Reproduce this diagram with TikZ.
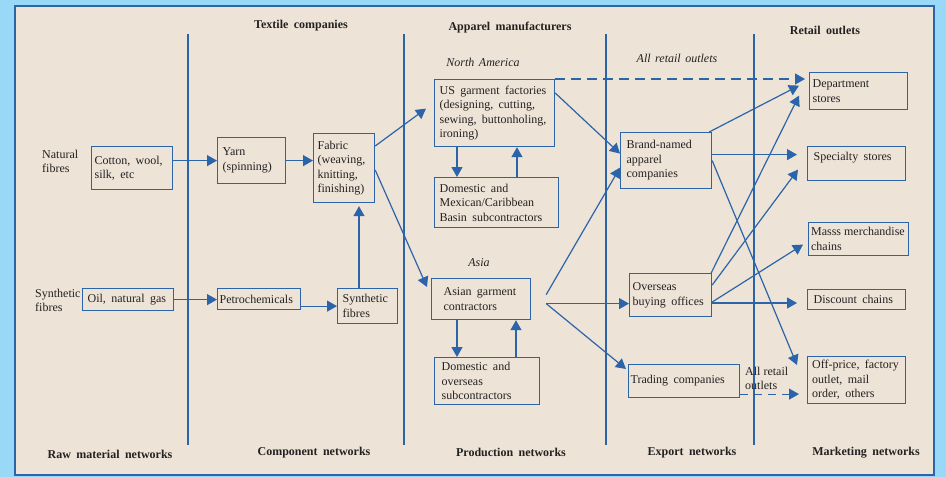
\documentclass[tikz,border=0pt]{standalone}
\usepackage{fontspec}
\setmainfont{Liberation Serif}
\usetikzlibrary{arrows.meta}
\definecolor{skyedge}{HTML}{9AD8F7}
\definecolor{paper}{HTML}{EEE3D7}
\definecolor{netblue}{HTML}{2B64A9}
\definecolor{ink}{HTML}{222222}
\newcommand\widegaps{\spaceskip=5.4pt plus 1pt\relax}
\newcommand\italgaps{\spaceskip=4.5pt plus 1pt\relax}
\newcommand\plaingaps{\spaceskip=0pt\relax}

\begin{document}
\begin{tikzpicture}[x=1pt,y=-1pt,
  unit/.style={draw=netblue,line width=1.2pt,anchor=north west,align=left,
    inner ysep=2pt,text=ink,font=\fontsize{12}{14.5}\selectfont,
    execute at begin node=\widegaps},
  flow/.style={netblue,line width=1.2pt,-{Triangle[length=10pt,width=11pt]}},
  head/.style={font=\bfseries\fontsize{12}{14}\selectfont\widegaps,text=ink},
  region/.style={font=\itshape\fontsize{12}{14}\selectfont\italgaps,text=ink},
  side/.style={anchor=north west,align=left,inner sep=0pt,text=ink,
    font=\fontsize{12}{14}\selectfont}]
  % frame
  \fill[skyedge] (0,0) rectangle (946,477);
  \filldraw[fill=paper,draw=netblue,line width=1.2pt] (15,6) rectangle (934,475);
  \foreach \x in {188,404,606,754} \draw[netblue,line width=1.2pt] (\x,34) -- (\x,445);

  % headings
  \node[head] (texthead) at (301,26) {Textile companies};
  \node[head] (apphead) at (510,28) {Apparel manufacturers};
  \node[head] (rethead) at (825,30) {Retail outlets};
  \node[head] (rawnet) at (110,454) {Raw material networks};
  \node[head] (compnet) at (314,453) {Component networks};
  \node[head] (prodnet) at (511,452) {Production networks};
  \node[head] (expnet) at (692,453) {Export networks};
  \node[head] (marknet) at (866,453) {Marketing networks};
  \node[region] (namerica) at (483,62) {North America};
  \node[region] (allout) at (677,58) {All retail outlets};
  \node[region] (asia) at (479,263) {Asia};

  % raw materials and components
  \node[side] (natural) at (42,150) {Natural\\fibres};
  \node[side] (synthetic) at (35,289) {Synthetic\\fibres};
  \node[unit,inner xsep=3pt,text width=75pt,minimum height=43pt] (cotton) at (91,146) {Cotton, wool,\\silk, etc};
  \node[unit,inner xsep=5pt,text width=81pt,minimum height=22pt] (oil) at (82,288) {Oil, natural gas};
  \node[unit,inner xsep=5pt,text width=58pt,minimum height=46pt] (yarn) at (217,137) {Yarn\\(spinning)};
  \node[unit,inner xsep=4pt,text width=53pt,minimum height=69pt] (fabric) at (313,133) {Fabric\\(weaving,\\knitting,\\finishing)};
  \node[unit,inner xsep=2pt,text width=79pt,minimum height=21pt] (petro) at (217,288) {Petrochemicals};
  \node[unit,inner xsep=5pt,text width=50pt,minimum height=35pt] (synf) at (337,288) {Synthetic\\fibres};

  % production
  \node[unit,inner xsep=5pt,text width=110pt,minimum height=67pt] (usfact) at (434,79) {US garment factories\\(designing, cutting,\\sewing, buttonholing,\\ironing)};
  \node[unit,inner xsep=5pt,text width=114pt,minimum height=50pt] (mexsub) at (434,177) {Domestic and\\Mexican/Caribbean\\Basin subcontractors};
  \node[unit,inner xsep=12pt,text width=75pt,minimum height=41pt] (asian) at (431,278) {Asian garment\\contractors};
  \node[unit,inner xsep=7pt,text width=91pt,minimum height=47pt] (ovsub) at (434,357) {Domestic and\\overseas\\subcontractors};

  % export
  \node[unit,inner xsep=6pt,text width=79pt,minimum height=56pt] (brand) at (620,132) {Brand-named\\apparel\\companies};
  \node[unit,inner xsep=3pt,text width=76pt,minimum height=43pt] (buying) at (629,273) {Overseas\\buying offices};
  \node[unit,inner xsep=2pt,text width=107pt,minimum height=33pt] (trading) at (628,364) {Trading companies};
  \node[side] (tradelabel) at (745,367) {All retail\\outlets};

  % marketing
  \node[unit,inner xsep=3pt,text width=92pt,minimum height=37pt] (dept) at (809,72) {Department\\stores};
  \node[unit,inner xsep=6pt,text width=86pt,minimum height=34pt] (special) at (807,146) {Specialty stores\\\mbox{}};
  \node[unit,inner xsep=2.5pt,text width=95pt,minimum height=33pt,execute at begin node=\plaingaps] (masss) at (808,222) {Masss merchandise\\chains};
  \node[unit,inner xsep=6pt,text width=86pt,minimum height=20pt] (discount) at (807,289) {Discount chains};
  \node[unit,inner xsep=4.5pt,text width=89pt,minimum height=47pt] (offprice) at (807,356) {Off-price, factory\\outlet, mail\\order, others};

  \coordinate (asianup) at ([xshift=15pt,yshift=4.5pt]asian.east);
  \coordinate (asianout) at ([xshift=15pt,yshift=-4.5pt]asian.east);
  \coordinate (tradeout) at ([yshift=-13pt]trading.east);

  % flows
  \draw[flow] (yarn.west -| cotton.east) -- (yarn.west);
  \draw[flow] (yarn.east) -- (yarn.east -| fabric.west);
  \draw[flow] (oil.east) -- (oil.east -| petro.west);
  \draw[flow] (synf.west -| petro.east) -- (synf.west);
  \draw[flow,shorten >=3pt] ([xshift=22pt]synf.north west) -- ([xshift=46pt]fabric.south west);
  \draw[flow] ([yshift=-13pt]fabric.north east) -- ([xshift=-8pt,yshift=4.5pt]usfact.west);
  \draw[flow] ([yshift=-37pt]fabric.north east) -- ([xshift=-4pt,yshift=-9pt]asian.north west);
  \draw[flow] ([xshift=23pt]usfact.south west) -- ([xshift=23pt]mexsub.north west);
  \draw[flow] ([xshift=83pt]mexsub.north west) -- ([xshift=83pt]usfact.south west);
  \draw[flow] ([xshift=26pt]asian.south west) -- ([xshift=23pt]ovsub.north west);
  \draw[flow] ([xshift=82pt]ovsub.north west) -- ([xshift=85pt]asian.south west);
  \draw[flow,dashed,dash pattern=on 10pt off 6pt,shorten >=4pt] (usfact.north east) -- (usfact.north east -| dept.west);
  \draw[flow] ([yshift=-14pt]usfact.north east) -- ([yshift=7pt]brand.west);
  \draw[flow] (asianup) -- ([yshift=-7pt]brand.west);
  \draw[flow] (asianout) -- (asianout -| buying.west);
  \draw[flow] (asianout) -- ([xshift=-2pt,yshift=-5pt]trading.north west);
  \draw[flow] ([xshift=-3pt]brand.north east) -- ([xshift=-10pt,yshift=5.5pt]dept.west);
  \draw[flow,shorten >=10pt] ([yshift=6pt]brand.east) -- ([yshift=6pt]brand.east -| special.west);
  \draw[flow] (brand.east) -- ([xshift=-10pt,yshift=-9pt]offprice.north west);
  \draw[flow] ([xshift=-1pt]buying.north east) -- ([xshift=-10pt,yshift=-4.5pt]dept.west);
  \draw[flow] ([yshift=-12pt]buying.north east) -- ([xshift=-9pt,yshift=-6pt]special.west);
  \draw[flow] ([yshift=-29pt]buying.north east) -- ([xshift=-5pt,yshift=-5.5pt]masss.west);
  \draw[flow,shorten >=10pt] ([yshift=-30pt]buying.north east) -- ([yshift=-30pt]buying.north east -| discount.west);
  \draw[flow,dashed,dash pattern=on 8pt off 6pt,shorten >=8pt] (tradeout) -- (tradeout -| offprice.west);
\end{tikzpicture}
\end{document}
